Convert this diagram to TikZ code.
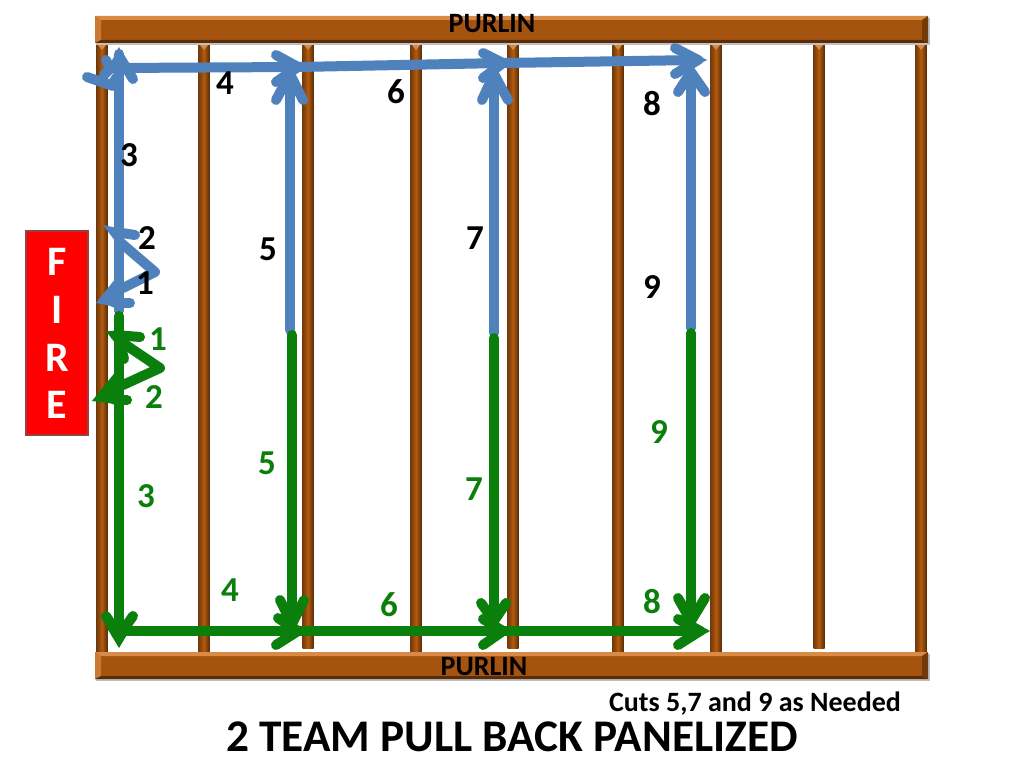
\documentclass[tikz,border=0pt]{standalone}
\usepackage{fontspec}
\setmainfont{Carlito}
\definecolor{wood}{HTML}{A5540F}
\definecolor{woodl}{HTML}{D98A45}
\definecolor{woodd}{HTML}{5A2C08}
\definecolor{bluea}{HTML}{4F81BD}
\definecolor{greena}{HTML}{0B7F0B}
\newcommand{\rafter}[3]{%
  \fill[left color=wood!70!black,right color=woodd,middle color=wood!85!orange] (#1-5.5,#2) rectangle (#1+5.5,#3);
  \fill[woodl] (#1-4,#2) -- (#1+4,#2) -- (#1,#2+5) -- cycle;}
\newcommand{\purlin}[1]{%
  \fill[black!25] (96,#1+2) rectangle (930,#1+29);
  \fill[wood] (95,#1) rectangle (928,#1+27);
  \fill[woodl] (95,#1) -- (928,#1) -- (922,#1+4) -- (101,#1+4) -- cycle;
  \fill[woodl!70!wood] (95,#1) -- (101,#1+4) -- (101,#1+24) -- (95,#1+27) -- cycle;
  \fill[woodd] (95,#1+27) -- (928,#1+27) -- (922,#1+24) -- (101,#1+24) -- cycle;
  \fill[wood!70!black] (928,#1) -- (928,#1+27) -- (922,#1+24) -- (922,#1+4) -- cycle;}
\tikzset{
  x=1pt,y=-1pt,
  cut/.style={line width=10pt,line cap=round,line join=round},
  bluecut/.style={cut,draw=bluea},
  greencut/.style={cut,draw=greena},
  lab/.style={font=\bfseries\fontsize{35}{37}\selectfont,inner sep=0pt},
  small/.style={font=\bfseries\fontsize{28}{30}\selectfont,inner sep=0pt},
  bigtitle/.style={font=\bfseries\fontsize{45.3}{47}\selectfont,inner sep=0pt},
  firetxt/.style={font=\bfseries\fontsize{42}{44}\selectfont,text=white,inner sep=0pt}
}
\begin{document}
\begin{tikzpicture}
\useasboundingbox (0,0) rectangle (1024,768);
\fill[white] (0,0) rectangle (1024,768);
% rafters
\rafter{102}{45}{652}
\rafter{204}{45}{652}
\rafter{308}{45}{648}
\rafter{416}{45}{652}
\rafter{513}{45}{648}
\rafter{618}{45}{652}
\rafter{716}{45}{652}
\rafter{819}{45}{648}
\rafter{921}{45}{652}
\purlin{16}
\purlin{652}
\node[small] (ptop) at (492,24) {PURLIN};
\node[small] (pbot) at (484,667) {PURLIN};
% fire box
\node[draw=red!45!black!75,line width=2pt,fill=red,minimum width=62pt,minimum height=204pt,inner sep=0pt] (fire) at (57,333) {};
\node[firetxt] (f1) at (57,262) {F};
\node[firetxt] (f2) at (57,310) {I};
\node[firetxt] (f3) at (57,358) {R};
\node[firetxt] (f4) at (57,405) {E};
% blue coordinates
\coordinate (bs) at (119,311);
\coordinate (bt) at (119,54);
\coordinate (bl) at (113,68);
\coordinate (ba) at (298,67);
\coordinate (bb) at (503,63);
\coordinate (bc) at (698,60);
\coordinate (b5s) at (290,330);
\coordinate (b5t) at (290,74);
\coordinate (b7s) at (494,333);
\coordinate (b7t) at (494,74);
\coordinate (b9s) at (691,328);
\coordinate (b9t) at (691,72);
% green coordinates
\coordinate (gs) at (119,316);
\coordinate (gb) at (119,636);
\coordinate (gl) at (119,631);
\coordinate (ga) at (298,631);
\coordinate (gc) at (503,631);
\coordinate (gd) at (700,631);
\coordinate (g5s) at (292,335);
\coordinate (g5t) at (292,624);
\coordinate (g7s) at (494,338);
\coordinate (g7t) at (494,621);
\coordinate (g9s) at (691,333);
\coordinate (g9t) at (691,621);
% blue cuts
\draw[bluecut] (bs) -- (bt);
\fill[bluea] (119,47) -- (108,68) -- (130,68) -- cycle;
\draw[bluecut] (119,56) -- (133,79);
\draw[bluecut] (87,77) -- (113,86);
\fill[bluea] (116,92) -- (105,85) -- (116,70) -- cycle;
\draw[bluecut] (106,60) -- (110,69) -- (104,75);
\draw[bluecut] (bl) -- (ba);
\draw[bluecut] (ba) -- (bb);
\draw[bluecut] (bb) -- (bc);
\draw[bluecut] (b5s) -- (b5t);
\draw[bluecut] (276,100) -- (b5t) -- (303,100);
\draw[bluecut] (276,55) -- (ba) -- (276,82);
\draw[bluecut] (b7s) -- (b7t);
\draw[bluecut] (482,100) -- (b7t) -- (508,100);
\draw[bluecut] (483,53) -- (bb) -- (483,78);
\draw[bluecut] (b9s) -- (b9t);
\draw[bluecut] (678,92) -- (b9t) -- (705,92);
\draw[bluecut] (675,48) -- (bc) -- (675,74);
\fill[bluea] (707,60) -- (692,52) -- (692,68) -- cycle;
% blue 1 and 2
\fill[bluea] (103,225) -- (122,229) -- (122,250) -- cycle;
\draw[bluecut] (115,232) -- (135,235);
\draw[bluecut] (120,242) -- (155,272) -- (123,288);
\fill[bluea] (96,303) -- (116,278) -- (116,307) -- cycle;
\draw[bluecut] (115,303) -- (130,303);
% green cuts
\draw[greencut] (gs) -- (gb);
\fill[greena] (106,331) -- (122,331) -- (122,352) -- cycle;
\draw[greencut] (115,335) -- (140,337);
\draw[greencut] (120,341) -- (160,368) -- (123,385);
\draw[greencut] (120,343) -- (124,359);
\fill[greena] (92,401) -- (117,370) -- (116,404) -- cycle;
\draw[greencut] (115,400) -- (127,400);
\draw[greencut] (106,616) -- (gb) -- (133,616);
\fill[greena] (119,648) -- (107,628) -- (131,628) -- cycle;
\draw[greencut] (gl) -- (ga);
\draw[greencut] (ga) -- (gc);
\draw[greencut] (gc) -- (gd);
\draw[greencut] (g5s) -- (g5t);
\draw[greencut] (280,600) -- (g5t) -- (304,600);
\draw[greencut] (278,618) -- (ga) -- (276,645);
\draw[greencut] (g7s) -- (g7t);
\draw[greencut] (481,603) -- (g7t) -- (506,603);
\draw[greencut] (483,619) -- (gc) -- (483,645);
\draw[greencut] (g9s) -- (g9t);
\draw[greencut] (678,598) -- (g9t) -- (705,598);
\draw[greencut] (678,619) -- (gd) -- (678,645);
\fill[greena] (710,631) -- (694,622) -- (694,640) -- cycle;
% black labels
\node[lab] (n1) at (145,283) {1};
\node[lab] (n2) at (147,238) {2};
\node[lab] (n3) at (129,155) {3};
\node[lab] (n4) at (225,83) {4};
\node[lab] (n5) at (268,249) {5};
\node[lab] (n6) at (396,92) {6};
\node[lab] (n7) at (475,238) {7};
\node[lab] (n8) at (652,104) {8};
\node[lab] (n9) at (652,287) {9};
% green labels
\node[lab,text=greena] (g1) at (158,339) {1};
\node[lab,text=greena] (g2) at (154,397) {2};
\node[lab,text=greena] (g3) at (146,496) {3};
\node[lab,text=greena] (g4) at (230,590) {4};
\node[lab,text=greena] (g5) at (267,463) {5};
\node[lab,text=greena] (g6) at (389,605) {6};
\node[lab,text=greena] (g7) at (474,489) {7};
\node[lab,text=greena] (g8) at (652,602) {8};
\node[lab,text=greena] (g9) at (659,432) {9};
% captions
\node[small] (note) at (755,704) {Cuts 5,7 and 9 as Needed};
\node[bigtitle] (title) at (512,737) {2 TEAM PULL BACK PANELIZED};
\end{tikzpicture}
\end{document}
